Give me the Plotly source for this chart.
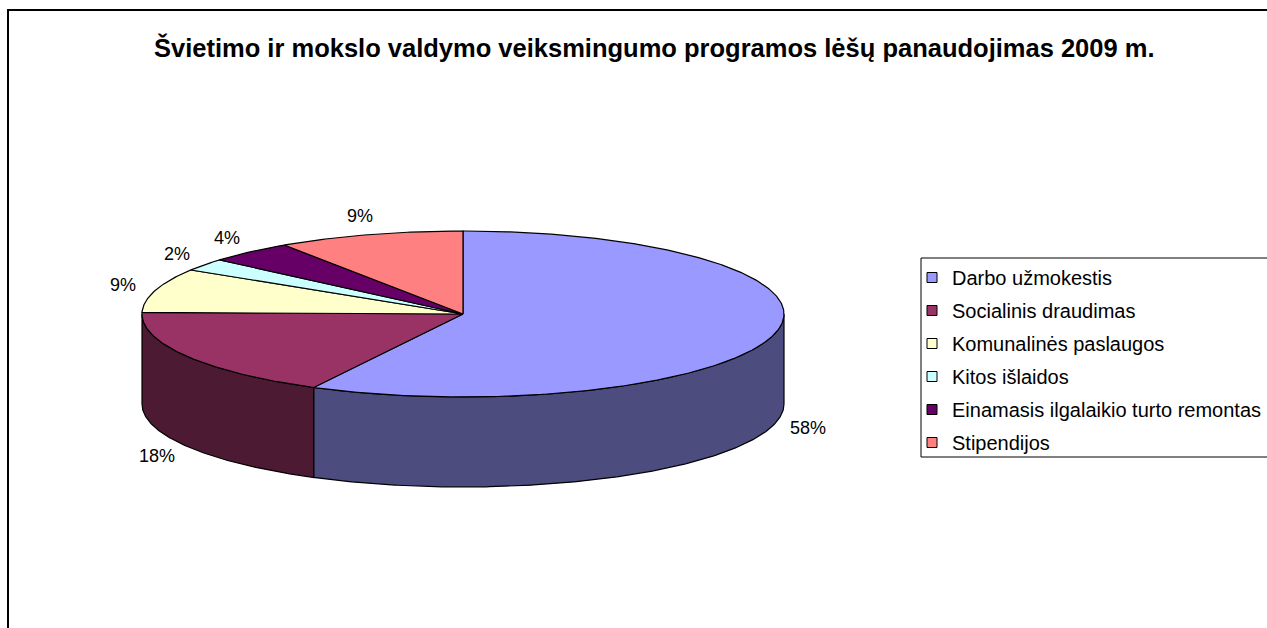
import numpy as np
import plotly.graph_objects as go

# ---------------- data ----------------
title_text = "Švietimo ir mokslo valdymo veiksmingumo programos lėšų panaudojimas 2009 m."
categories = [
    "Darbo užmokestis",
    "Socialinis draudimas",
    "Komunalinės paslaugos",
    "Kitos išlaidos",
    "Einamasis ilgalaikio turto remontas",
    "Stipendijos",
]
values = [57.7, 17.6, 8.6, 2.4, 4.3, 9.4]
top_colors = ["#9999FF", "#993366", "#FFFFCC", "#CCFFFF", "#660066", "#FF8080"]
side_colors = ["#4C4C7E", "#4C1A32", "#80806A", "#668080", "#330033", "#804040"]

# ---------------- geometry (pixel space of the page) ----------------
W, H = 1267, 628
CX, CY = 463, 314          # pie centre
RX, RY = 321, 83           # ellipse radii of the top face
DEPTH = 90                 # pie thickness
LRX, LRY = 355, 102        # label ellipse
FONT = "Arial, Liberation Sans, sans-serif"

vals = np.array(values, dtype=float)
bounds = np.concatenate([[0.0], np.cumsum(vals / vals.sum() * 360.0)])


def arc(a, b, dy=0.0):
    n = max(3, int(abs(b - a) / 0.5) + 2)
    t = np.radians(np.linspace(a, b, n))
    return CX + RX * np.sin(t), CY - RY * np.cos(t) + dy


fig = go.Figure()

# side walls (visible front half: 90..270 deg clockwise from top)
for i in range(len(vals)):
    a, b = bounds[i], bounds[i + 1]
    lo, hi = max(a, 90.0), min(b, 270.0)
    if hi > lo:
        xt, yt = arc(lo, hi)
        xb, yb = arc(hi, lo, DEPTH)
        xs = np.concatenate([xt, xb, xt[:1]])
        ys = np.concatenate([yt, yb, yt[:1]])
        fig.add_trace(go.Scatter(x=xs, y=ys, mode="lines", fill="toself",
                                 fillcolor=side_colors[i],
                                 line=dict(color="black", width=1.2),
                                 hoverinfo="skip", showlegend=False))

# top faces
for i in range(len(vals)):
    a, b = bounds[i], bounds[i + 1]
    xa, ya = arc(a, b)
    xs = np.concatenate([[CX], xa, [CX]])
    ys = np.concatenate([[CY], ya, [CY]])
    fig.add_trace(go.Scatter(x=xs, y=ys, mode="lines", fill="toself",
                             fillcolor=top_colors[i],
                             line=dict(color="black", width=1.2),
                             hoverinfo="skip", showlegend=False))

# legend entries
for i, cat in enumerate(categories):
    fig.add_trace(go.Scatter(x=[None], y=[None], mode="markers", name=cat,
                             legendgroup=cat,
                             marker=dict(symbol="square", size=10, color=top_colors[i],
                                         line=dict(color="black", width=1))))

# percentage labels
annotations = []
for i in range(len(vals)):
    mid = np.radians((bounds[i] + bounds[i + 1]) / 2)
    c = np.cos(mid)
    lx = CX + LRX * np.sin(mid)
    ly = CY - LRY * c + (DEPTH if c < 0 else 0)
    annotations.append(dict(x=lx, y=ly, xref="x", yref="y",
                            text=f"{round(vals[i] / vals.sum() * 100)}%",
                            showarrow=False, xanchor="center", yanchor="middle",
                            font=dict(family=FONT, size=18, color="black")))

annotations.append(dict(x=654, y=47, xref="x", yref="y", text=f"<b>{title_text}</b>",
                        showarrow=False, xanchor="center", yanchor="middle",
                        font=dict(family=FONT, size=25.5, color="black")))

shapes = [
    # chart-area border (extends past the visible page on right and bottom)
    dict(type="rect", xref="paper", yref="paper", x0=8 / W, x1=1.05,
         y0=-0.05, y1=1 - 10 / H, line=dict(color="black", width=2),
         fillcolor="rgba(0,0,0,0)", layer="above"),
    # legend border
    dict(type="rect", xref="x", yref="y", x0=921, x1=1290, y0=258, y1=457,
         line=dict(color="black", width=1), fillcolor="rgba(0,0,0,0)", layer="above"),
]

fig.update_layout(
    width=W, height=H, autosize=False,
    margin=dict(l=0, r=0, t=0, b=0),
    paper_bgcolor="white", plot_bgcolor="white",
    xaxis=dict(range=[0, W], visible=False, fixedrange=True),
    yaxis=dict(range=[H, 0], visible=False, fixedrange=True),
    showlegend=True,
    hovermode=False,
    legend=dict(x=912 / W, y=1 - 258 / H, xanchor="left", yanchor="top",
                bgcolor="rgba(0,0,0,0)", borderwidth=0,
                font=dict(family=FONT, size=20, color="black"),
                tracegroupgap=4, itemclick=False, itemdoubleclick=False),
    annotations=annotations,
    shapes=shapes,
)

fig.write_html(
    "out.html",
    config={"displayModeBar": False, "staticPlot": True},
    post_script="document.body.style.margin='0px';document.body.style.overflow='hidden';",
)
